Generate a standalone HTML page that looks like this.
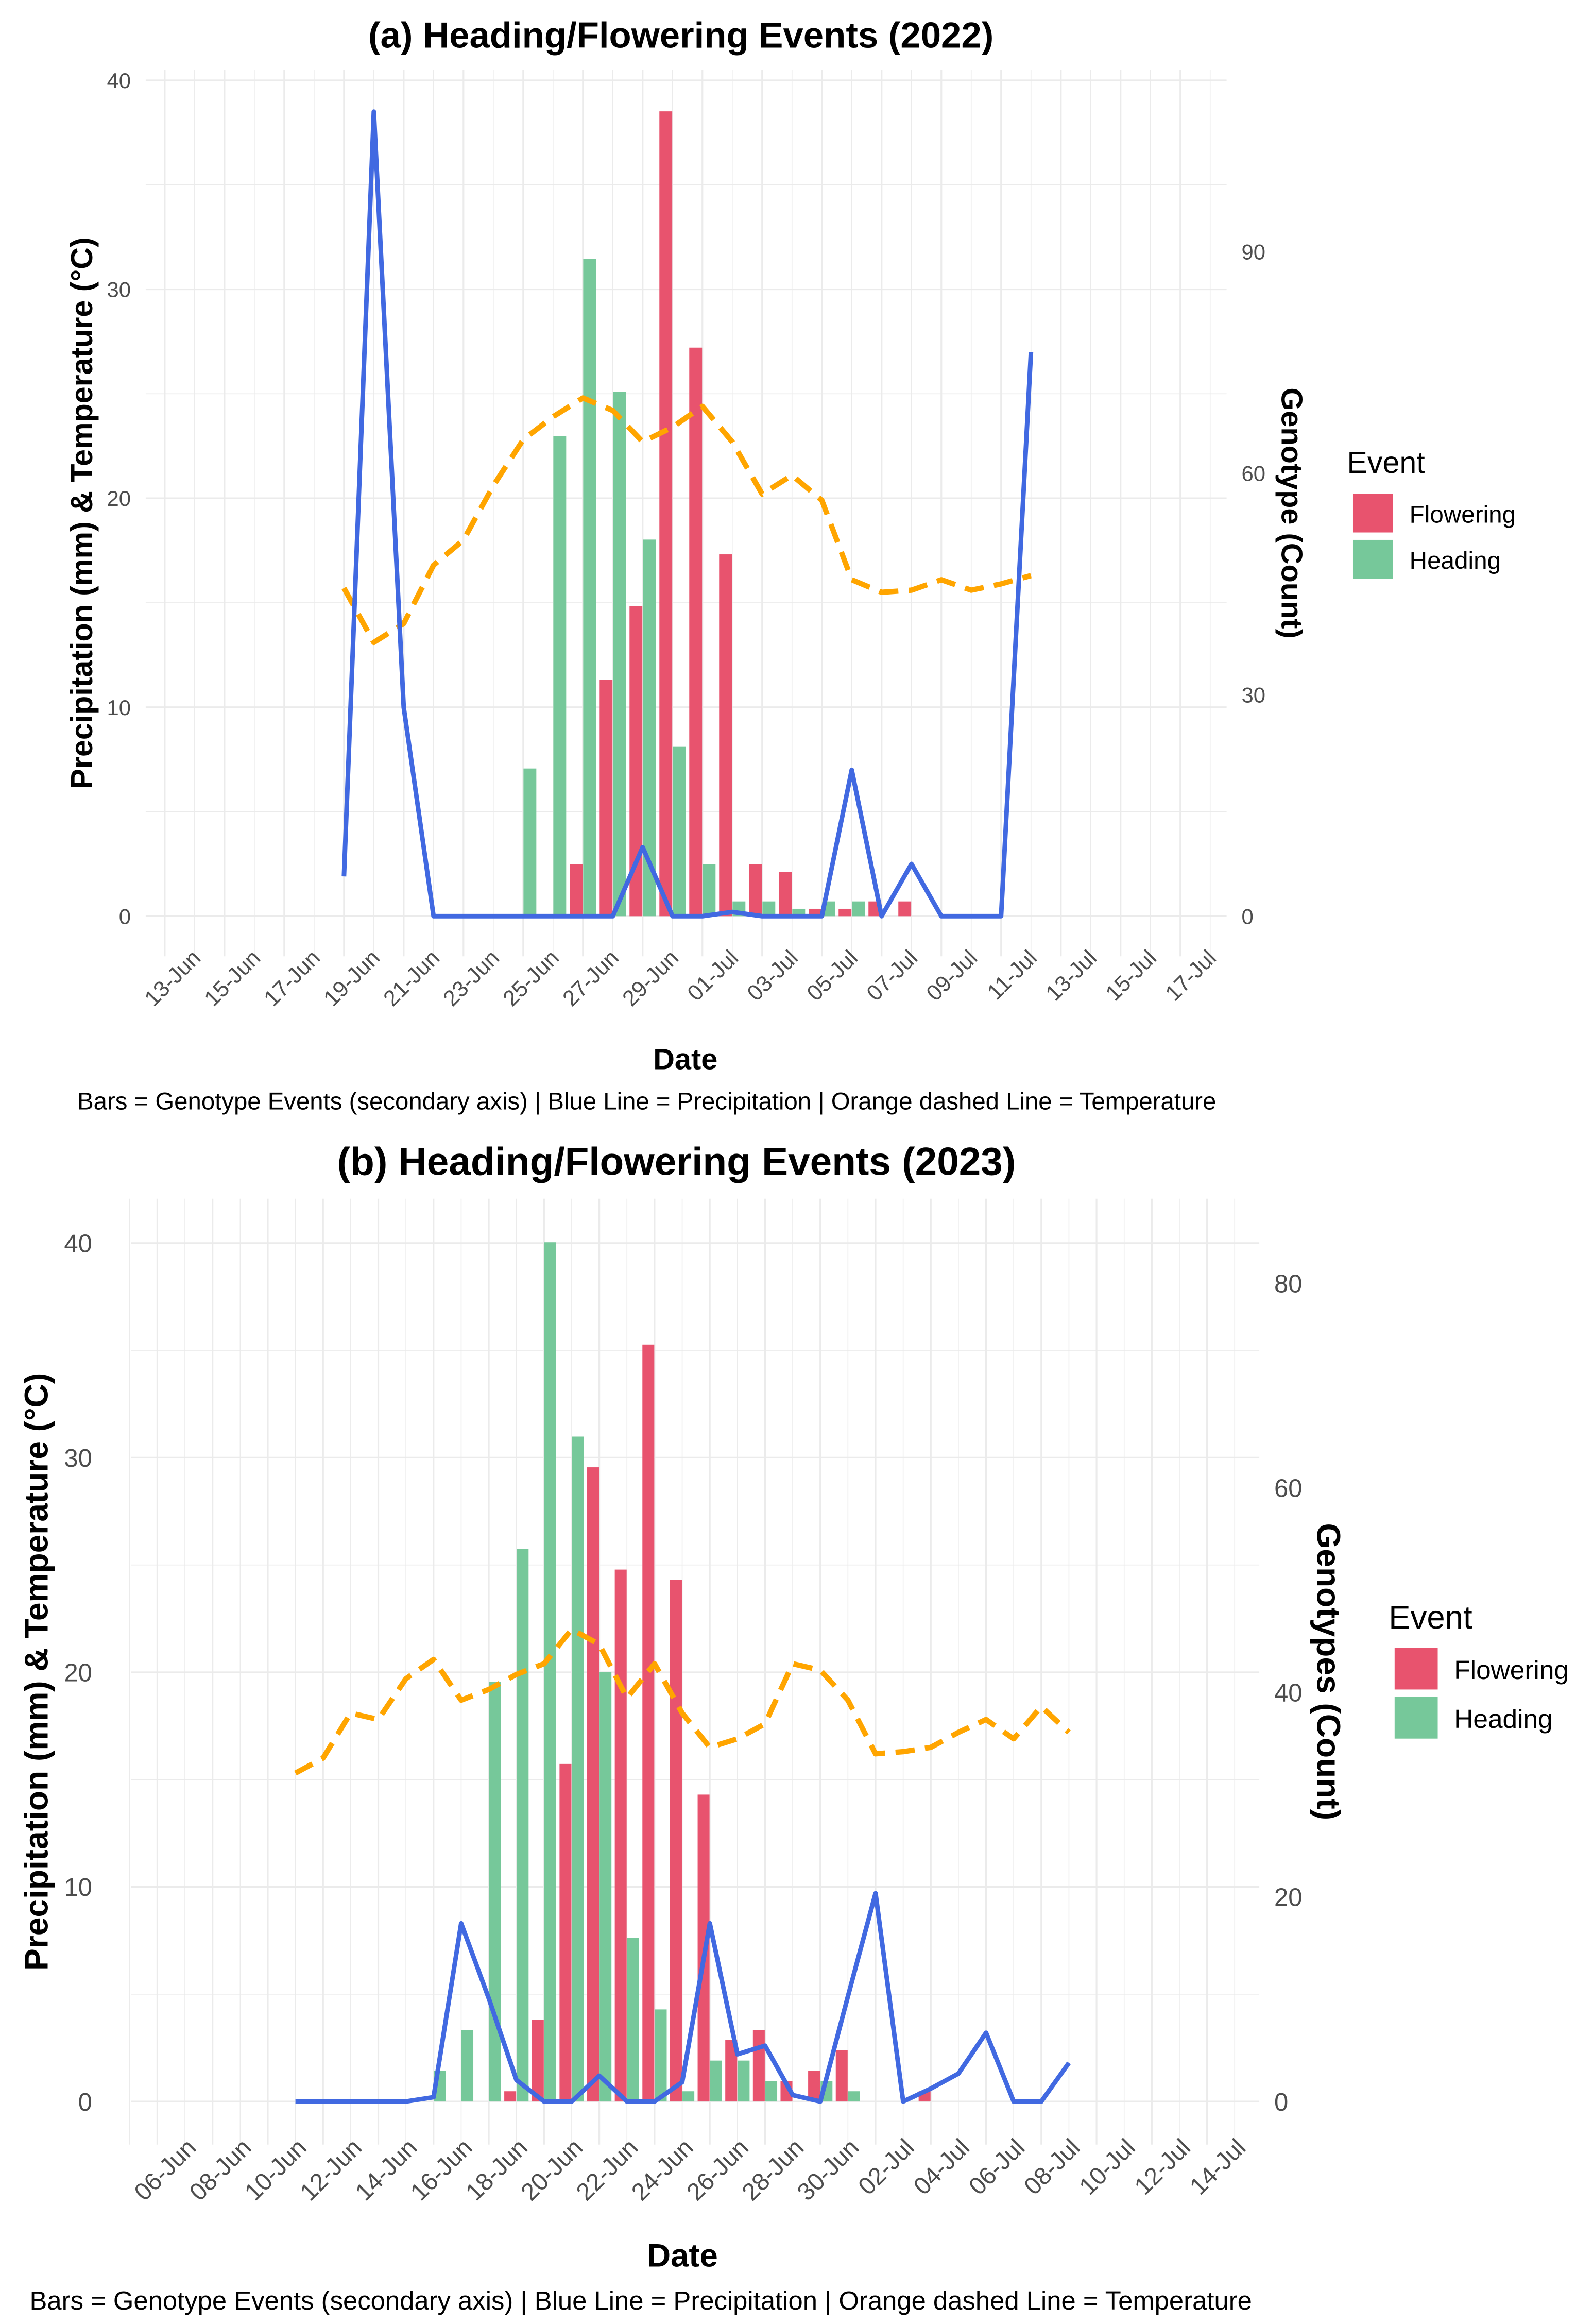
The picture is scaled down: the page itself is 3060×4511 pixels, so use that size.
<!DOCTYPE html>
<html><head><meta charset="utf-8"><title>Heading/Flowering Events</title>
<style>html,body{margin:0;padding:0;background:#fff}svg{display:block}text{font-family:"Liberation Sans",Arial,sans-serif}</style>
</head><body>
<svg id="chart" xmlns="http://www.w3.org/2000/svg" width="3060" height="4511" viewBox="0 0 1060 1562.6"></svg>
<script>
// ---------- Panel (a) 2022 data ----------
const aLineDates = ["19-Jun","20-Jun","21-Jun","22-Jun","23-Jun","24-Jun","25-Jun","26-Jun","27-Jun","28-Jun","29-Jun","30-Jun","01-Jul","02-Jul","03-Jul","04-Jul","05-Jul","06-Jul","07-Jul","08-Jul","09-Jul","10-Jul","11-Jul","12-Jul"];
const aPrecip = [1.9,38.5,10,0,0,0,0,0,0,0,3.3,0,0,0.2,0,0,0,7,0,2.5,0,0,0,27];
const aTemp = [15.7,13.1,14,16.8,18,20.6,22.8,23.9,24.8,24.2,22.7,23.4,24.4,22.7,20.2,21.1,19.9,16.1,15.5,15.6,16.1,15.6,15.9,16.3];
const aBarDates = ["25-Jun","26-Jun","27-Jun","28-Jun","29-Jun","30-Jun","01-Jul","02-Jul","03-Jul","04-Jul","05-Jul","06-Jul","07-Jul","08-Jul"];
const aFlowering = [0,0,7,32,42,109,77,49,7,6,1,1,2,2];
const aHeading = [20,65,89,71,51,23,7,2,2,1,2,2,0,0];
const aXTicks = ["13-Jun","15-Jun","17-Jun","19-Jun","21-Jun","23-Jun","25-Jun","27-Jun","29-Jun","01-Jul","03-Jul","05-Jul","07-Jul","09-Jul","11-Jul","13-Jul","15-Jul","17-Jul"];
const aYTicks = [0,10,20,30,40];
const aY2Ticks = [0,30,60,90];

// ---------- Panel (b) 2023 data ----------
const bLineDates = ["11-Jun","12-Jun","13-Jun","14-Jun","15-Jun","16-Jun","17-Jun","18-Jun","19-Jun","20-Jun","21-Jun","22-Jun","23-Jun","24-Jun","25-Jun","26-Jun","27-Jun","28-Jun","29-Jun","30-Jun","01-Jul","02-Jul","03-Jul","04-Jul","05-Jul","06-Jul","07-Jul","08-Jul","09-Jul"];
const bPrecip = [0,0,0,0,0,0.2,8.3,4.8,1.0,0,0,1.2,0,0,0.9,8.3,2.2,2.6,0.3,0,4.9,9.7,0,0.6,1.3,3.2,0,0,1.8];
const bTemp = [15.3,16.0,18.1,17.8,19.7,20.6,18.7,19.2,19.9,20.4,22.0,21.3,18.8,20.4,18.1,16.5,16.9,17.6,20.4,20.1,18.7,16.2,16.3,16.5,17.2,17.8,16.9,18.4,17.2];
const bBarDates = ["16-Jun","17-Jun","18-Jun","19-Jun","20-Jun","21-Jun","22-Jun","23-Jun","24-Jun","25-Jun","26-Jun","27-Jun","28-Jun","29-Jun","30-Jun","01-Jul","02-Jul","03-Jul","04-Jul"];
const bFlowering = [0,0,0,1,8,33,62,52,74,51,30,6,7,2,3,5,0,0,1];
const bHeading = [3,7,41,54,84,65,42,16,9,1,4,4,2,0,2,1,0,0,0];
const bXTicks = ["06-Jun","08-Jun","10-Jun","12-Jun","14-Jun","16-Jun","18-Jun","20-Jun","22-Jun","24-Jun","26-Jun","28-Jun","30-Jun","02-Jul","04-Jul","06-Jul","08-Jul","10-Jul","12-Jul","14-Jul"];
const bYTicks = [0,10,20,30,40];
const bY2Ticks = [0,20,40,60,80];

const NS = "http://www.w3.org/2000/svg";
const root = document.getElementById('chart');
function mk(tag, attrs, parent) {
  const e = document.createElementNS(NS, tag);
  for (const k in attrs) e.setAttribute(k, attrs[k]);
  (parent || root).appendChild(e);
  return e;
}
function dayNum(s) {
  const d = parseInt(s.slice(0, 2), 10);
  return (s.slice(3) === 'Jul' ? 30 : 0) + d;
}

function drawPanel(o) {
  const g = mk('g', {});
  
  
  const X = d => o.x0 + (d - o.d0) * o.pxDay;
  const Y = v => o.y0 - v * o.pxUnit;
  const Y2 = c => Y(c / o.factor);

  const grid = mk('g', {}, g);
  
  
  for (let v = -5; v <= 45; v += 5) {
    const y = Y(v);
    if (y < o.top || y > o.bottom) continue;
    const ln = mk('line', {x1: o.left, x2: o.right, y1: y, y2: y, stroke: '#ebebeb', 'stroke-width': (v % 10 === 0) ? 1.1 : 0.55}, grid);
    
    
  }
  for (let d = o.d0 - 2; d <= o.d0 + 45; d++) {
    const x = X(d);
    if (x < o.left - 1.5 || x > o.right) continue;
    const major = ((d - o.d0) % 2 === 0);
    const ln = mk('line', {x1: x, x2: x, y1: o.top, y2: o.bottom, stroke: '#ebebeb', 'stroke-width': major ? 1.1 : 0.55}, grid);
    
    
  }

  const bw = 0.43 * o.pxDay;
  const bars = mk('g', {}, g);
  
  
  o.barDates.forEach((ds, i) => {
    const xc = X(dayNum(ds));
    const f = o.flower[i], h = o.heading[i];
    if (f > 0) {
      const r = mk('rect', {x: xc - 0.225 * o.pxDay - bw / 2, y: Y2(f), width: bw, height: Y(0) - Y2(f), fill: '#E8536E'}, bars);
      
      
    }
    if (h > 0) {
      const r = mk('rect', {x: xc + 0.225 * o.pxDay - bw / 2, y: Y2(h), width: bw, height: Y(0) - Y2(h), fill: '#76C89A'}, bars);
      
      
    }
  });

  const tp = o.lineDates.map((ds, i) => X(dayNum(ds)).toFixed(2) + ',' + Y(o.temp[i]).toFixed(2)).join(' ');
  const tl = mk('polyline', {points: tp, fill: 'none', stroke: '#FFA500', 'stroke-width': 3.6, 'stroke-dasharray': '13 7', 'stroke-linejoin': 'round'}, g);
  
  

  const pp = o.lineDates.map((ds, i) => X(dayNum(ds)).toFixed(2) + ',' + Y(o.precip[i]).toFixed(2)).join(' ');
  const pl = mk('polyline', {points: pp, fill: 'none', stroke: '#4169E1', 'stroke-width': 3.1, 'stroke-linejoin': 'round'}, g);
  
  

  o.yTicks.forEach(v => {
    const t = mk('text', {x: o.yLabX, y: Y(v) + o.yTickFs * 0.36, 'text-anchor': 'end', 'font-size': o.yTickFs, fill: '#4d4d4d'}, g);
    t.textContent = v;
    
    
  });
  o.y2Ticks.forEach(c => {
    const t = mk('text', {x: o.y2LabX, y: Y2(c) + o.yTickFs * 0.36, 'text-anchor': 'start', 'font-size': o.yTickFs, fill: '#4d4d4d'}, g);
    t.textContent = c;
    
    
  });
  o.xTicks.forEach(ds => {
    const x = X(dayNum(ds)) + o.xlabDx;
    const y = o.bottom + o.xlabDy;
    const t = mk('text', {x: x, y: y, 'text-anchor': 'end', 'font-size': o.tickFs, fill: '#4d4d4d', transform: 'rotate(-45 ' + x + ' ' + y + ')'}, g);
    t.textContent = ds;
    
    
  });

  const ti = mk('text', {x: o.titleX, y: o.titleY, 'text-anchor': 'middle', 'font-size': o.titleFs, 'font-weight': 'bold', fill: '#000'}, g);
  ti.textContent = o.title;
  
  

  const yt = mk('text', {x: 0, y: 0, 'text-anchor': 'middle', 'font-size': o.axFs, 'font-weight': 'bold', fill: '#000', transform: 'translate(' + o.yTitleX + ' ' + o.axMidY + ') rotate(-90)'}, g);
  yt.textContent = 'Precipitation (mm) & Temperature (°C)';
  
  

  const y2t = mk('text', {x: 0, y: 0, 'text-anchor': 'middle', 'font-size': o.ax2Fs, 'font-weight': 'bold', fill: '#000', transform: 'translate(' + o.y2TitleX + ' ' + o.axMidY + ') rotate(90)'}, g);
  y2t.textContent = o.y2Title;
  
  

  const xt = mk('text', {x: o.xTitleX, y: o.xTitleY, 'text-anchor': 'middle', 'font-size': o.dateFs, 'font-weight': 'bold', fill: '#000'}, g);
  xt.textContent = 'Date';
  
  

  const cap = mk('text', {x: o.capX, y: o.capY, 'text-anchor': 'middle', 'font-size': o.capFs, fill: '#000'}, g);
  cap.textContent = 'Bars = Genotype Events (secondary axis) | Blue Line = Precipitation | Orange dashed Line = Temperature';
  
  

  const lg = mk('g', {}, g);
  
  
  const lt = mk('text', {x: o.legX - 4, y: o.legY, 'font-size': o.legTitleFs, fill: '#000'}, lg);
  lt.textContent = 'Event';
  
  
  [['Flowering', '#E8536E'], ['Heading', '#76C89A']].forEach((it, i) => {
    const ky = o.legY + o.legGap + i * o.legStep;
    const r = mk('rect', {x: o.legX, y: ky, width: o.legKey, height: o.legKey - 1, fill: it[1]}, lg);
    
    
    const t = mk('text', {x: o.legX + o.legKey + 11, y: ky + o.legKey / 2 + o.legFs * 0.36, 'font-size': o.legFs, fill: '#000'}, lg);
    t.textContent = it[0];
    
    
  });
}

drawPanel({
  name: 'panel-a-2022', title: '(a) Heading/Flowering Events (2022)', y2Title: 'Genotype (Count)',
  lineDates: aLineDates, precip: aPrecip, temp: aTemp, barDates: aBarDates, flower: aFlowering, heading: aHeading,
  xTicks: aXTicks, yTicks: aYTicks, y2Ticks: aY2Ticks,
  x0: 110.8, d0: 13, pxDay: 20.09, y0: 616, pxUnit: 14.05, factor: 2.83,
  left: 98, right: 825, top: 47, bottom: 643,
  tickFs: 15, yTickFs: 14.5, yLabX: 88, y2LabX: 835, xlabDx: 25, xlabDy: 2, titleFs: 24.5, titleX: 458, titleY: 32,
  axFs: 20.5, ax2Fs: 20, dateFs: 20, yTitleX: 62, y2TitleX: 862, axMidY: 345, xTitleX: 461, xTitleY: 719,
  capFs: 16.4, capX: 435, capY: 746,
  legX: 910, legY: 318, legGap: 14, legStep: 31, legKey: 27, legTitleFs: 20.5, legFs: 16.5
});

drawPanel({
  name: 'panel-b-2023', title: '(b) Heading/Flowering Events (2023)', y2Title: 'Genotypes (Count)',
  lineDates: bLineDates, precip: bPrecip, temp: bTemp, barDates: bBarDates, flower: bFlowering, heading: bHeading,
  xTicks: bXTicks, yTicks: bYTicks, y2Ticks: bY2Ticks,
  x0: 105.8, d0: 6, pxDay: 18.58, y0: 1413, pxUnit: 14.43, factor: 2.098,
  left: 88, right: 847, top: 806, bottom: 1442,
  tickFs: 16.5, yTickFs: 17, yLabX: 62, y2LabX: 857, xlabDx: 27, xlabDy: 3, titleFs: 26.5, titleX: 455, titleY: 790,
  axFs: 22.2, ax2Fs: 22.2, dateFs: 22, yTitleX: 32, y2TitleX: 886, axMidY: 1124, xTitleX: 459, xTitleY: 1524,
  capFs: 17.6, capX: 431, capY: 1553,
  legX: 938, legY: 1095, legGap: 13, legStep: 33, legKey: 29, legTitleFs: 22, legFs: 17.8
});
</script>
</body></html>
